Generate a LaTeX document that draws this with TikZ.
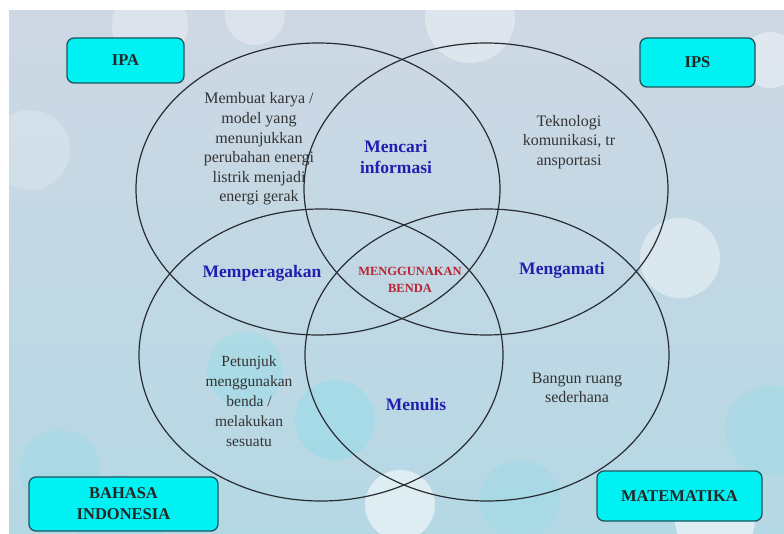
\documentclass[tikz,border=0pt]{standalone}
\usepackage{fontspec}
\setmainfont{Liberation Serif}
\usetikzlibrary{shapes.geometric}
\definecolor{bgtop}{RGB}{206,216,228}
\definecolor{bgbot}{RGB}{180,216,228}
\definecolor{bokehcyan}{RGB}{120,225,235}
\definecolor{boxfill}{RGB}{0,242,242}
\definecolor{boxdraw}{RGB}{30,85,95}
\definecolor{linegray}{RGB}{40,44,50}
\definecolor{keyblue}{RGB}{35,30,175}
\definecolor{keyred}{RGB}{185,35,50}
\begin{document}
\begin{tikzpicture}[x=1pt,y=-1pt,
  vset/.style={ellipse, draw=linegray, line width=1.2pt, minimum width=364pt, minimum height=292pt, inner sep=0pt},
  subj/.style={draw=boxdraw, fill=boxfill, line width=1.3pt, rounded corners=7pt, inner sep=0pt, font=\fontsize{16.5}{21}\selectfont\bfseries, align=center, text=black!85},
  plain/.style={align=center, text=black!80, font=\fontsize{16}{19.6}\selectfont},
  key/.style={align=center, text=keyblue, font=\fontsize{17.5}{21}\selectfont\bfseries},
  center/.style={align=center, text=keyred, font=\fontsize{12.5}{17}\selectfont\bfseries}]
\useasboundingbox (0,0) rectangle (784,534);
\fill[white] (0,0) rectangle (784,534);
\shade[top color=bgtop, bottom color=bgbot] (9,11) rectangle (784,534);
\begin{scope}
\clip (9,11) rectangle (784,534);
\fill[white, opacity=0.3] (150,25) circle (38);
\fill[white, opacity=0.3] (255,15) circle (30);
\fill[white, opacity=0.35] (470,18) circle (45);
\fill[white, opacity=0.2] (30,150) circle (40);
\fill[white, opacity=0.4] (680,258) circle (40);
\fill[white, opacity=0.4] (770,60) circle (28);
\fill[white, opacity=0.55] (400,505) circle (35);
\fill[white, opacity=0.55] (715,520) circle (40);
\fill[bokehcyan, opacity=0.3] (120,520) circle (45);
\fill[bokehcyan, opacity=0.25] (245,370) circle (38);
\fill[bokehcyan, opacity=0.3] (335,420) circle (40);
\fill[bokehcyan, opacity=0.2] (60,470) circle (40);
\fill[bokehcyan, opacity=0.2] (770,430) circle (45);
\fill[bokehcyan, opacity=0.2] (520,500) circle (40);
\end{scope}

\node[vset] (ipa) at (318,189) {};
\node[vset] (ips) at (486,189) {};
\node[vset] (bi)  at (321,355) {};
\node[vset] (mtk) at (487,355) {};

\node[subj, minimum width=117pt, minimum height=45pt] (ipabox) at (125.5,60.5) {IPA};
\node[subj, minimum width=115pt, minimum height=49pt] (ipsbox) at (697.5,62.5) {IPS};
\node[subj, minimum width=189pt, minimum height=54pt] (bibox) at (123.5,504) {BAHASA\\INDONESIA};
\node[subj, minimum width=165pt, minimum height=50pt] (mtkbox) at (679.5,496) {MATEMATIKA};

\node[plain] (t1) at (259,149) {Membuat karya /\\model yang\\menunjukkan\\perubahan energi\\listrik menjadi\\energi gerak};
\node[plain] (t2) at (569,142) {Teknologi\\komunikasi, tr\\ansportasi};
\node[plain, font=\fontsize{15.5}{20}\selectfont] (t3) at (249,401) {Petunjuk\\menggunakan\\benda /\\melakukan\\sesuatu};
\node[plain] (t4) at (577,388) {Bangun ruang\\sederhana};

\node[key] (k1) at (396,157) {Mencari\\informasi};
\node[key] (k2) at (262,273) {Memperagakan};
\node[key] (k3) at (562,270) {Mengamati};
\node[key] (k4) at (416,405) {Menulis};
\node[center] (c) at (410,280) {MENGGUNAKAN\\BENDA};
\end{tikzpicture}
\end{document}
